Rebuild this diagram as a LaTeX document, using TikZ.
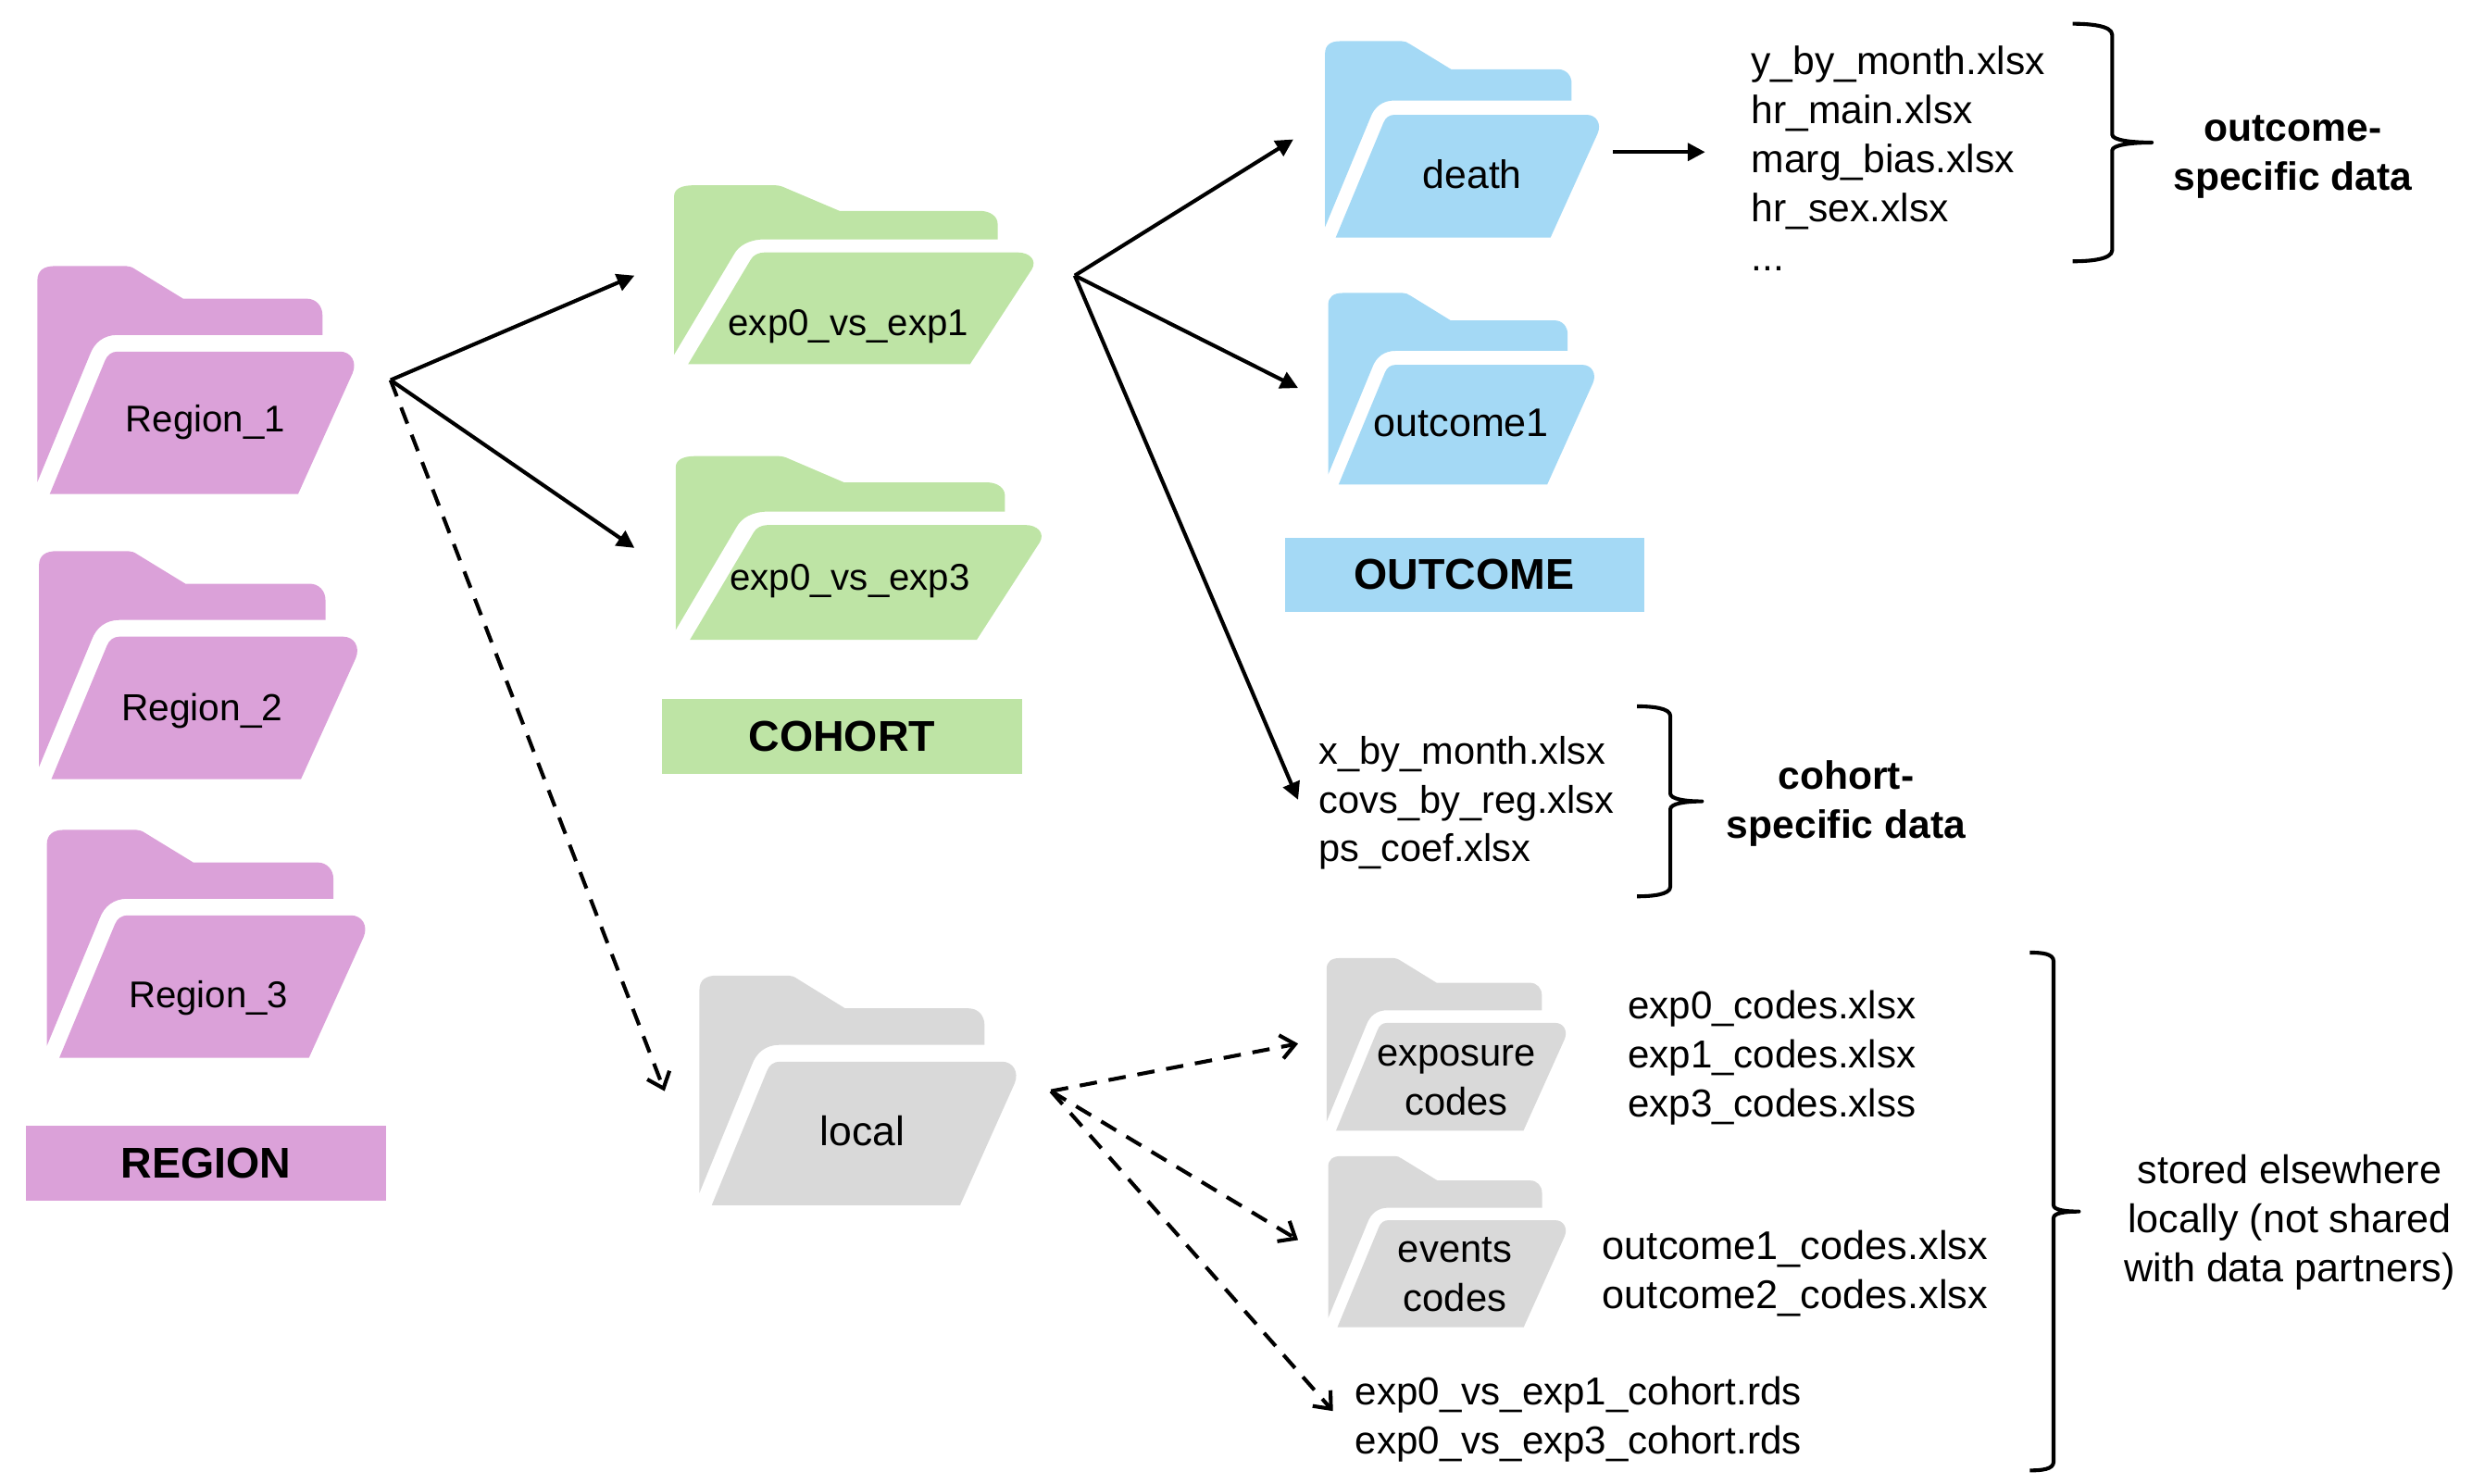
\documentclass[tikz,border=0pt]{standalone}
\usepackage{fontspec}
\setmainfont{Liberation Sans}
\usetikzlibrary{arrows.meta}
\definecolor{cpurple}{HTML}{DBA1D9}
\definecolor{cgreen}{HTML}{BEE4A5}
\definecolor{cblue}{HTML}{A4D9F5}
\definecolor{cgray}{HTML}{D9D9D9}
\tikzset{
  x=1pt,y=-1pt,
  txt/.style={font=\fontsize{#1}{30.9}\selectfont,align=left,inner sep=0pt,anchor=west},
  txt/.default=24.6,
  ctxt/.style={font=\fontsize{#1}{31}\selectfont,align=center,inner sep=0pt},
  ctxt/.default=24,
  btxt/.style={font=\fontsize{24.9}{31}\selectfont\bfseries,align=center,inner sep=0pt},
  tag/.style={font=\fontsize{27.2}{31}\selectfont\bfseries,inner sep=0pt,minimum width=227pt,minimum height=47pt},
  solidarrow/.style={line width=2.4pt,-{Triangle[length=11pt,width=11pt]}},
  dasharrow/.style={line width=2.4pt,dash pattern=on 11pt off 7.5pt,-{Straight Barb[length=9pt,width=15pt]}},
  bracepath/.style={line width=2.4pt,line join=round}
}
\newcommand{\folder}[5]{%
  \pgfmathsetlengthmacro{\fw}{#4-#2}\pgfmathsetlengthmacro{\fh}{#5-#3}%
  \begin{scope}[shift={(#2,#3)},x=\fw,y=-\fh]
  \fill[#1] (0,.063) .. controls (0,.02) and (.02,0) .. (.055,0) -- (.28,0) .. controls (.29,0) and (.30,.005) .. (.31,.015) -- (.46,.143) -- (.85,.143) .. controls (.88,.143) and (.90,.175) .. (.90,.215) -- (.90,.302) -- (.253,.302) .. controls (.21,.302) and (.18,.335) .. (.166,.388) -- (0,.947) -- cycle;
  \fill[#1] (.039,1) -- (.823,1) -- (.995,.47) .. controls (1.01,.42) and (.99,.375) .. (.955,.375) -- (.253,.375) .. controls (.235,.375) and (.22,.39) .. (.213,.416) -- cycle;
  \end{scope}}
\begin{document}
\begin{tikzpicture}
\useasboundingbox (-0.6,0) rectangle (1568.4,936.5);
% folders
\folder{cpurple}{23}{168}{223}{312}
\folder{cpurple}{24}{348}{225}{492}
\folder{cpurple}{29}{524}{230}{668}
\folder{cgreen}{425}{117}{652}{230}
\folder{cgreen}{426}{288}{657}{404}
\folder{cgray}{441}{616}{641}{761}
\folder{cblue}{836}{26}{1009}{150}
\folder{cblue}{838}{185}{1006}{306}
\folder{cgray}{837}{605}{988}{714}
\folder{cgray}{838}{730}{988}{838}
% folder labels
\node[ctxt=23.5] (r1) at (129,266.5) {Region\_1};
\node[ctxt=23.8] (r2) at (127,449) {Region\_2};
\node[ctxt=23.5] (r3) at (131,630) {Region\_3};
\node[ctxt=23.5] (c1) at (535,206) {exp0\_vs\_exp1};
\node[ctxt=23.5] (c3) at (536,367) {exp0\_vs\_exp3};
\node[ctxt=26] (loc) at (544,714) {local};
\node[ctxt=25] (death) at (929,110) {death};
\node[ctxt=25.2] (o1) at (922,267) {outcome1};
\node[ctxt=24.4] (expc) at (919,682) {exposure\\codes};
\node[ctxt=24.4] (evc) at (918,805) {events\\codes};
% tags
\node[tag,fill=cpurple] (tr) at (129.5,734.5) {REGION};
\node[tag,fill=cgreen] (tc) at (531,465) {COHORT};
\node[tag,fill=cblue] (to) at (924,363) {OUTCOME};
% file lists
\node[txt=24.9] (f1) at (1105,100) {y\_by\_month.xlsx\\hr\_main.xlsx\\marg\_bias.xlsx\\hr\_sex.xlsx\\...};
\node[txt=24.3] (f2) at (832,507) {x\_by\_month.xlsx\\covs\_by\_reg.xlsx\\ps\_coef.xlsx};
\node[txt] (f3) at (1027,668) {exp0\_codes.xlsx\\exp1\_codes.xlsx\\exp3\_codes.xlss};
\node[txt=25.3] (f4) at (1011,804) {outcome1\_codes.xlsx\\outcome2\_codes.xlsx};
\node[txt] (f5) at (855,896) {exp0\_vs\_exp1\_cohort.rds\\exp0\_vs\_exp3\_cohort.rds};
% notes
\node[btxt] (n1) at (1447,99) {outcome-\\specific data};
\node[btxt] (n2) at (1165,507.5) {cohort-\\specific data};
\node[ctxt=25.2] (n3) at (1445,772) {stored elsewhere\\locally (not shared\\with data partners)};
% connector ends
\coordinate (hubR) at (246,240);
\coordinate (hubC) at (678,174);
\coordinate (hubL) at (663,689);
\coordinate (toC1) at (400,174);
\coordinate (toC3) at (400,346);
\coordinate (toLoc) at (419,689);
\coordinate (toDeath) at (816,88);
\coordinate (toO1) at (819,245);
\coordinate (toF2) at (819,505);
\coordinate (fromDeath) at (1018,96);
\coordinate (toF1) at (1076,96);
\coordinate (toExp) at (819,659);
\coordinate (toEv) at (819,783);
\coordinate (toF5) at (841,891);
\draw[solidarrow] (hubR) -- (toC1);
\draw[solidarrow] (hubR) -- (toC3);
\draw[dasharrow] (hubR) -- (toLoc);
\draw[solidarrow] (hubC) -- (toDeath);
\draw[solidarrow] (hubC) -- (toO1);
\draw[solidarrow] (hubC) -- (toF2);
\draw[solidarrow] (fromDeath) -- (toF1);
\draw[dasharrow] (hubL) -- (toExp);
\draw[dasharrow] (hubL) -- (toEv);
\draw[dasharrow] (hubL) -- (toF5);
% braces
\draw[bracepath] (1308,15) .. controls (1318,15) and (1333,16) .. (1333,22) -- (1333,85) .. controls (1333,88.5) and (1345,90) .. (1358,90) .. controls (1345,90) and (1333,91.5) .. (1333,95) -- (1333,158) .. controls (1333,164) and (1318,165) .. (1308,165);
\draw[bracepath] (1033,446) .. controls (1042,446) and (1054,447) .. (1054,452) -- (1054,501) .. controls (1054,504.5) and (1063,506) .. (1074,506) .. controls (1063,506) and (1054,507.5) .. (1054,511) -- (1054,560) .. controls (1054,565) and (1042,566) .. (1033,566);
\draw[bracepath] (1281,601.5) .. controls (1288,601.5) and (1296,602) .. (1296,607) -- (1296,761) .. controls (1296,764) and (1303,765) .. (1312,765) .. controls (1303,765) and (1296,766) .. (1296,769) -- (1296,923) .. controls (1296,928) and (1288,928.5) .. (1281,928.5);
\end{tikzpicture}
\end{document}
